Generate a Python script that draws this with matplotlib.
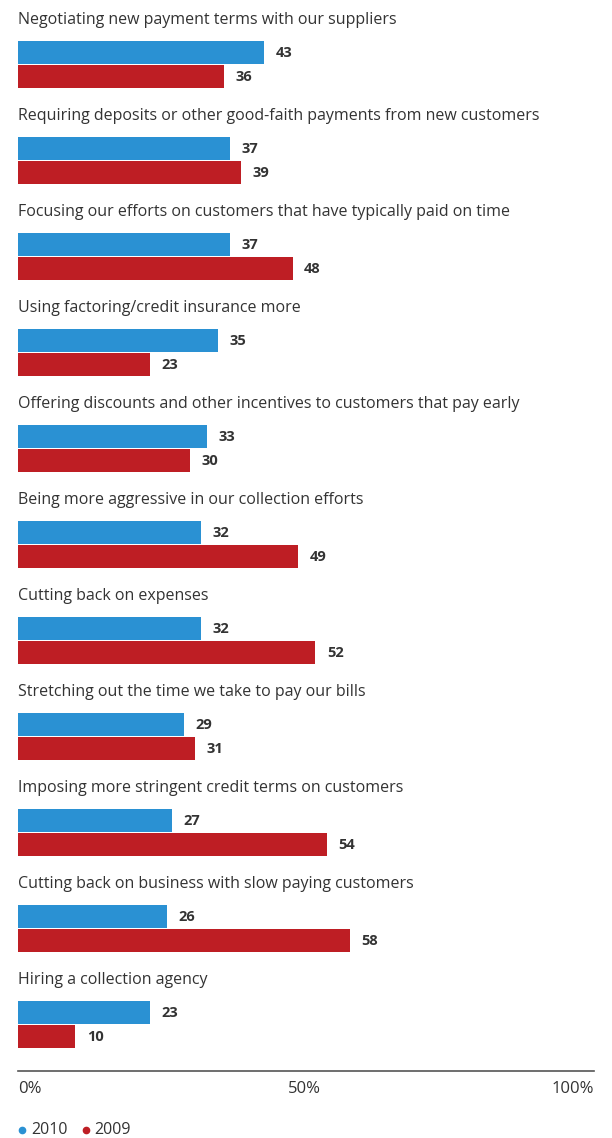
import matplotlib
matplotlib.use("Agg")
import matplotlib.pyplot as plt
from matplotlib.lines import Line2D

categories = [
    "Negotiating new payment terms with our suppliers",
    "Requiring deposits or other good-faith payments from new customers",
    "Focusing our efforts on customers that have typically paid on time",
    "Using factoring/credit insurance more",
    "Offering discounts and other incentives to customers that pay early",
    "Being more aggressive in our collection efforts",
    "Cutting back on expenses",
    "Stretching out the time we take to pay our bills",
    "Imposing more stringent credit terms on customers",
    "Cutting back on business with slow paying customers",
    "Hiring a collection agency",
]
values_2010 = [43, 37, 37, 35, 33, 32, 32, 29, 27, 26, 23]
values_2009 = [36, 39, 48, 23, 30, 49, 52, 31, 54, 58, 10]
tick_values = [0, 50, 100]
tick_labels = ["0%", "50%", "100%"]

BLUE = "#2a91d3"
RED = "#be1e24"
TEXT = "#333333"

plt.rcParams["font.family"] = ["Open Sans", "DejaVu Sans"]

W, H = 612, 1138
fig = plt.figure(figsize=(W / 100, H / 100), dpi=100)
# axes runs from the figure top down to the baseline rule; one y unit per group
axis_px = 1071
pitch = 96
ax = fig.add_axes([18 / W, 1 - axis_px / H, (594 - 18) / W, axis_px / H])
ax.set_xlim(0, 100.7)
ax.set_ylim(axis_px / pitch, 0)

bh = 0.235
for i, (cat, a, b) in enumerate(zip(categories, values_2010, values_2009)):
    ax.text(0, i + 0.21, cat, fontsize=11.5, color=TEXT, va="center", ha="left")
    ax.barh(i + 0.545, a, height=bh, color=BLUE, align="center")
    ax.barh(i + 0.795, b, height=bh, color=RED, align="center")
    ax.text(a + 2.0, i + 0.55, str(a), fontsize=10.5, fontweight="bold",
            color=TEXT, va="center", ha="left")
    ax.text(b + 2.0, i + 0.80, str(b), fontsize=10.5, fontweight="bold",
            color=TEXT, va="center", ha="left")

for s in ["top", "left", "right"]:
    ax.spines[s].set_visible(False)
ax.spines["bottom"].set_color("#555555")
ax.spines["bottom"].set_linewidth(1.2)
ax.set_yticks([])
ax.set_xticks([])
for v, lab, ha in zip(tick_values, tick_labels, ["left", "center", "right"]):
    xv = 100.7 if v == 100 else v
    ax.text(xv, axis_px / pitch + 18 / pitch, lab, fontsize=12, color=TEXT,
            ha=ha, va="center", clip_on=False)

# legend row: coloured dot + year
ly = 1 - 1130 / H
for x_dot, x_txt, col, year in [(22, 31, BLUE, "2010"), (86, 94, RED, "2009")]:
    fig.add_artist(Line2D([x_dot / W], [ly], marker="o", markersize=4.5,
                          color=col, linestyle="none", transform=fig.transFigure))
    fig.text(x_txt / W, ly, year, color=TEXT, fontsize=11.5, va="center")

fig.savefig("out.png", dpi=100, facecolor="white")
